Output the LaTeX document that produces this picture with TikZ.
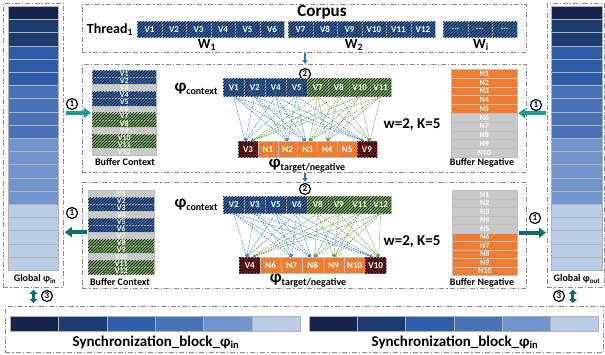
\documentclass[tikz,border=0pt]{standalone}
\usepackage{fontspec}
\setmainfont{Carlito}
\usetikzlibrary{patterns,arrows.meta,positioning}

\definecolor{gnavy}{HTML}{15244A}
\definecolor{gdark}{HTML}{1C3B6F}
\definecolor{gblue}{HTML}{2E5CA8}
\definecolor{gmid}{HTML}{4A72B9}
\definecolor{glight}{HTML}{7194CD}
\definecolor{gpale}{HTML}{B9CDE9}
\definecolor{cblue}{HTML}{1F6CB6}
\definecolor{cgreen}{HTML}{6FAE48}
\definecolor{cgray}{HTML}{C9C9C9}
\definecolor{corange}{HTML}{EE7D31}
\definecolor{cred}{HTML}{B0191F}
\definecolor{teal1}{HTML}{1A9C95}
\definecolor{teal2}{HTML}{0E6E65}
\definecolor{feedblue}{HTML}{2E75B6}
\definecolor{framegray}{HTML}{8C8C8C}

\newcommand{\phisub}[1]{{\fontsize{17}{17}\selectfont φ}\raisebox{-3pt}{\fontsize{10}{10}\selectfont #1}}

\begin{document}
\begin{tikzpicture}
    [x=1pt,y=-1pt,
    frame/.style={draw=framegray,line width=0.8pt,dash pattern=on 5pt off 2pt on 1.2pt off 2pt,inner sep=0,anchor=north west},
    gcell/.style={draw=black!30,line width=0.6pt,minimum width=50pt,minimum height=13.2pt,inner sep=0,anchor=north west},
    vcell/.style={draw=black!25,line width=0.4pt,inner sep=0,anchor=north west,text=white,font=\bfseries\fontsize{9}{9}\selectfont},
    bluecell/.style={vcell,fill=cblue,postaction={pattern=north east lines}},
    greencell/.style={vcell,fill=cgreen,postaction={pattern=north east lines}},
    graycell/.style={vcell,fill=cgray},
    negcell/.style={vcell,fill=corange},
    tgtcell/.style={vcell,fill=cred,postaction={pattern=crosshatch}},
    stepnum/.style={circle,draw,line width=1.2pt,inner sep=0,minimum size=11pt,font=\bfseries\fontsize{9}{9}\selectfont},
    lbl/.style={font=\bfseries\fontsize{10}{10}\selectfont,inner sep=0},
    big/.style={font=\bfseries\fontsize{14}{14}\selectfont,inner sep=0},
    pull/.style={draw=teal1,line width=3.6pt,-{Triangle[length=7pt,width=10pt]}},
    push/.style={draw=teal2,line width=3.6pt,-{Triangle[length=7pt,width=10pt]}},
    both/.style={draw=teal2,line width=3pt,{Triangle[length=4pt,width=8pt]}-{Triangle[length=4pt,width=8pt]}},
    feed/.style={draw=feedblue,line width=1.6pt,-{Triangle[length=4pt,width=5pt]}},
    bluelink/.style={draw=cblue!85,line width=0.5pt,dash pattern=on 1.5pt off 1pt,-{Stealth[length=3pt,width=3pt]}},
    greenlink/.style={draw=cgreen!90!black,line width=0.5pt,dash pattern=on 1.5pt off 1pt,-{Stealth[length=3pt,width=3pt]}}]

    \useasboundingbox (0,0) rectangle (605,354);

    % global tables
    \node[frame,minimum width=60pt,minimum height=284pt] (gin) at (3,3) {};
    \node[frame,minimum width=57pt,minimum height=284pt] (gout) at (547,3) {};
    \foreach \c [count=\i from 0] in {gnavy,gdark,gdark,gblue,gblue,gblue,gmid,gmid,gmid,gmid,glight,glight,glight,glight,glight,gpale,gpale,gpale,gpale,gpale}{
        \node[gcell,fill=\c] (in\i) at (8,6+13.2*\i) {};
        \node[gcell,fill=\c,minimum width=51pt] (out\i) at (551,6+13.2*\i) {};
    }
    \node[lbl] (ginl) at (35,279) {Global φ\textsubscript{in}};
    \node[lbl] (goutl) at (577,279) {Global φ\textsubscript{out}};

    % corpus
    \node[frame,minimum width=444pt,minimum height=48pt] (corpus) at (82,4) {};
    \node[font=\bfseries\fontsize{17}{17}\selectfont,inner sep=0] (corpusl) at (322,12) {Corpus};
    \node[big] (thread) at (110,30) {Thread\textsubscript{1}};
    \foreach \t [count=\i from 0] in {V1,V2,V3,V4,V5,V6}
        \node[bluecell,minimum width=24.5pt,minimum height=16pt] (wa\i) at (137+24.5*\i,21) {\t};
    \foreach \t [count=\i from 0] in {V7,V8,V9,V10,V11,V12}
        \node[bluecell,minimum width=24.5pt,minimum height=16pt] (wb\i) at (288+24.5*\i,21) {\t};
    \foreach \i in {0,1,2}
        \node[bluecell,minimum width=24.5pt,minimum height=16pt] (wc\i) at (443+24.5*\i,21) {...};
    \node[big] (w1l) at (207,45) {W\textsubscript{1}};
    \node[big] (w2l) at (354,45) {W\textsubscript{2}};
    \node[big] (wil) at (481,45) {W\textsubscript{i}};

    % first step
    \node[frame,minimum width=444pt,minimum height=108pt] (train1) at (82,64) {};
    \node[stepnum] (s2a) at (305,74) {2};
    \draw[feed] (corpus.south -| s2a) -- (train1.north -| s2a);

    \foreach \s/\t [count=\i from 0] in {bluecell/V1,bluecell/V2,graycell/V3,bluecell/V4,bluecell/V5,graycell/V6,greencell/V7,greencell/V8,graycell/V9,greencell/V10,greencell/V11,graycell/V12}
        \node[\s,minimum width=64pt,minimum height=7.1pt,font=\bfseries\fontsize{8}{7}\selectfont] (bca\i) at (92,70+7.1*\i) {\t};
    \node[inner sep=0,minimum width=64pt,minimum height=85.2pt,anchor=north west] (bufc1) at (92,70) {};
    \node[lbl] (bc1l) at (125,162) {Buffer Context};

    \foreach \s/\t [count=\i from 0] in {negcell/N1,negcell/N2,negcell/N3,negcell/N4,negcell/N5,graycell/N6,graycell/N7,graycell/N8,graycell/N9,graycell/N10}
        \node[\s,minimum width=66pt,minimum height=8.8pt,font=\bfseries\fontsize{8}{8}\selectfont] (bna\i) at (451,69+8.8*\i) {\t};
    \node[inner sep=0,minimum width=66pt,minimum height=88pt,anchor=north west] (bufn1) at (451,69) {};
    \node[lbl] (bn1l) at (482,163) {Buffer Negative};

    \node[inner sep=0] (pc1) at (196,89) {\bfseries\phisub{context}};
    \foreach \s/\t [count=\i] in {bluecell/V1,bluecell/V2,bluecell/V4,bluecell/V5,greencell/V7,greencell/V8,greencell/V10,greencell/V11}
        \node[\s,minimum width=21pt,minimum height=18pt] (a1-\i) at (202+21*\i,78) {\t};
    \foreach \s/\t [count=\i] in {tgtcell/V3,negcell/N1,negcell/N2,negcell/N3,negcell/N4,negcell/N5,tgtcell/V9}
        \node[\s,minimum width=19.8pt,minimum height=16pt] (t1-\i) at (218.2+19.8*\i,141) {\t};
    \node[inner sep=0] (pt1) at (307,166) {\bfseries\phisub{target/negative}};
    \node[font=\bfseries\fontsize{15}{15}\selectfont,inner sep=0] (wk1) at (412,125) {w=2, K=5};

    \foreach \a in {1,...,4}
        \foreach \t/\d in {1/-3pt,3/0pt,4/-2pt,7/-3pt}
            \draw[bluelink] (a1-\a.south) -- ([xshift=\d]t1-\t.north);
    \foreach \a in {5,...,8}
        \foreach \t/\d in {1/3pt,4/2pt,5/0pt,7/3pt}
            \draw[greenlink] (a1-\a.south) -- ([xshift=\d]t1-\t.north);

    \node[stepnum] (s1a) at (72,104) {1};
    \node[stepnum] (s1b) at (536,105) {1};
    \draw[pull,shorten <=2pt,shorten >=1pt] (gin.east |- bufc1.west) -- (bufc1.west);
    \draw[pull,shorten <=1pt,shorten >=1pt] (gout.west |- bufn1.east) -- (bufn1.east);

    % second step
    \node[frame,minimum width=444pt,minimum height=106pt] (train2) at (82,182) {};
    \node[stepnum] (s2b) at (305,189) {2};
    \draw[feed] (train1.south -| s2b) -- (train2.north -| s2b);

    \foreach \s/\t [count=\i from 0] in {graycell/V1,bluecell/V2,bluecell/V3,graycell/V4,bluecell/V5,bluecell/V6,graycell/V7,greencell/V8,greencell/V9,graycell/V10,greencell/V11,greencell/V12}
        \node[\s,minimum width=66pt,minimum height=7pt,font=\bfseries\fontsize{8}{7}\selectfont] (bcb\i) at (88,190+7*\i) {\t};
    \node[inner sep=0,minimum width=66pt,minimum height=84pt,anchor=north west] (bufc2) at (88,190) {};
    \node[lbl] (bc2l) at (120,282) {Buffer Context};

    \foreach \s/\t [count=\i from 0] in {graycell/N1,graycell/N2,graycell/N3,graycell/N4,graycell/N5,negcell/N6,negcell/N7,negcell/N8,negcell/N9,negcell/N10}
        \node[\s,minimum width=65pt,minimum height=8.5pt,font=\bfseries\fontsize{8}{8}\selectfont] (bnb\i) at (452,190+8.5*\i) {\t};
    \node[inner sep=0,minimum width=65pt,minimum height=85pt,anchor=north west] (bufn2) at (452,190) {};
    \node[lbl] (bn2l) at (482,283) {Buffer Negative};

    \node[inner sep=0] (pc2) at (196,205) {\bfseries\phisub{context}};
    \foreach \s/\t [count=\i] in {bluecell/V2,bluecell/V3,bluecell/V5,bluecell/V6,greencell/V8,greencell/V9,greencell/V11,greencell/V12}
        \node[\s,minimum width=21pt,minimum height=17pt] (a2-\i) at (202+21*\i,196) {\t};
    \foreach \s/\t [count=\i] in {tgtcell/V4,negcell/N6,negcell/N7,negcell/N8,negcell/N9,negcell/N10,tgtcell/V10}
        \node[\s,minimum width=21pt,minimum height=16pt] (t2-\i) at (218+21*\i,257) {\t};
    \node[inner sep=0] (pt2) at (308,281) {\bfseries\phisub{target/negative}};
    \node[font=\bfseries\fontsize{15}{15}\selectfont,inner sep=0] (wk2) at (412,242) {w=2, K=5};

    \foreach \a in {1,...,4}
        \foreach \t/\d in {1/-3pt,3/0pt,4/-2pt,7/-3pt}
            \draw[bluelink] (a2-\a.south) -- ([xshift=\d]t2-\t.north);
    \foreach \a in {5,...,8}
        \foreach \t/\d in {1/3pt,4/2pt,5/0pt,7/3pt}
            \draw[greenlink] (a2-\a.south) -- ([xshift=\d]t2-\t.north);

    \node[stepnum] (s1c) at (72,213) {1};
    \node[stepnum] (s1d) at (535,218) {1};
    \draw[push,shorten <=1pt,shorten >=1pt] (bufc2.west) -- (gin.east |- bufc2.west);
    \draw[push,shorten <=2pt,shorten >=1pt] (bufn2.east) -- (gout.west |- bufn2.east);

    % synchronization
    \node[frame,minimum width=598pt,minimum height=46pt] (sync) at (5,306) {};
    \foreach \c [count=\i from 0] in {gnavy,gdark,gblue,gmid,glight,gpale}{
        \node[gcell,fill=\c,minimum width=48.3pt,minimum height=15pt] (sa\i) at (10+48.3*\i,316) {};
        \node[gcell,fill=\c,minimum width=48.2pt,minimum height=15pt] (sb\i) at (309+48.2*\i,316) {};
    }
    \node[font=\bfseries\fontsize{15}{15}\selectfont,inner sep=0] (syncl1) at (156,342) {Synchronization\_block\_φ\textsubscript{in}};
    \node[font=\bfseries\fontsize{15}{15}\selectfont,inner sep=0] (syncl2) at (455,342) {Synchronization\_block\_φ\textsubscript{in}};

    \draw[both] ([yshift=-2pt]gin.south) -- ([yshift=3pt]gin.south |- sync.north);
    \draw[both] ([yshift=-2pt,xshift=-3pt]gout.south) -- ([yshift=3pt,xshift=-3pt]gout.south |- sync.north);
    \node[stepnum] (s3a) at (47,296) {3};
    \node[stepnum] (s3b) at (559,296) {3};
\end{tikzpicture}
\end{document}
